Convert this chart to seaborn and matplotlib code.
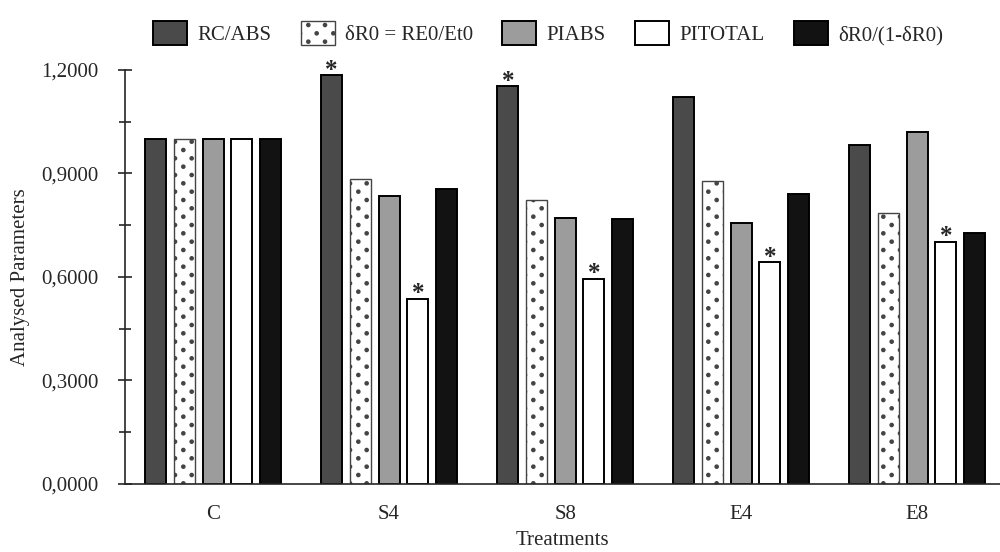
import numpy as np
import pandas as pd
import matplotlib
matplotlib.use("Agg")
import matplotlib.pyplot as plt
from matplotlib import hatch as mhatch
from matplotlib.path import Path
import seaborn as sns

treatments = ["C", "S4", "S8", "E4", "E8"]
params = ["RC/ABS", "δR0 = RE0/Et0", "PIABS", "PITOTAL", "δR0/(1-δR0)"]

rc_abs   = [1.000, 1.185, 1.153, 1.122, 0.984]
dr0      = [1.000, 0.885, 0.824, 0.878, 0.786]
piabs    = [1.000, 0.836, 0.771, 0.757, 1.020]
pitotal  = [1.000, 0.536, 0.594, 0.643, 0.702]
dr0_ratio = [1.000, 0.855, 0.767, 0.840, 0.727]

# significance marks (treatment, parameter)
significant = [("S4", "RC/ABS"), ("S4", "PITOTAL"),
               ("S8", "RC/ABS"), ("S8", "PITOTAL"),
               ("E4", "PITOTAL"), ("E8", "PITOTAL")]

yticks = [0.0, 0.3, 0.6, 0.9, 1.2]
ytick_labels = ["0,0000", "0,3000", "0,6000", "0,9000", "1,2000"]

colors = {"RC/ABS": "#4a4a4a", "δR0 = RE0/Et0": "#ffffff", "PIABS": "#9c9c9c",
          "PITOTAL": "#ffffff", "δR0/(1-δR0)": "#121212"}


# --- staggered dot hatch (replaces the default '.' hatch) ---
class StaggeredDots(mhatch.HatchPatternBase):
    def __init__(self, hatch, density):
        n = hatch.count('.')
        self.cols = 6 * n
        self.rows = 12 * n
        self.radius = 0.016
        circ = Path.unit_circle()
        self.shape_vertices = circ.vertices
        self.shape_codes = circ.codes
        if n:
            self.num_shapes = (self.rows // 2 + 1) * (self.cols + 1) + (self.rows // 2) * self.cols
        else:
            self.num_shapes = 0
        self.num_vertices = self.num_shapes * len(self.shape_vertices)

    def set_vertices_and_codes(self, vertices, codes):
        sv = self.shape_vertices * self.radius
        size = len(sv)
        cursor = 0
        for r in range(self.rows + 1):
            if r % 2 == 0:
                cols = np.linspace(0, 1, self.cols + 1)
            else:
                cols = np.linspace(0.5 / self.cols, 1 - 0.5 / self.cols, self.cols)
            y = r / self.rows
            for x in cols:
                vertices[cursor:cursor + size] = sv + (x, y)
                codes[cursor:cursor + size] = self.shape_codes
                cursor += size


mhatch._hatch_types = [StaggeredDots if t is mhatch.SmallFilledCircles else t
                       for t in mhatch._hatch_types]

series = [rc_abs, dr0, piabs, pitotal, dr0_ratio]
rows = []
for p, vals in zip(params, series):
    for t, v in zip(treatments, vals):
        rows.append({"Treatment": t, "Parameter": p, "Value": v})
df = pd.DataFrame(rows)

sns.set_style("ticks")
plt.rcParams["font.family"] = ["Liberation Serif", "DejaVu Serif"]
plt.rcParams["hatch.color"] = "black"
plt.rcParams["hatch.linewidth"] = 1.0

fig = plt.figure(figsize=(10, 5.52), dpi=100)
ax = fig.add_axes([0.125, 0.1232, 0.875, 0.7500])

sns.barplot(data=df, x="Treatment", y="Value", hue="Parameter",
            order=treatments, hue_order=params, palette=colors,
            saturation=1, width=0.815, gap=0.27, edgecolor="black",
            linewidth=1.4, legend=False, ax=ax, errorbar=None)

# dotted pattern for δR0 series
for patch in ax.containers[1]:
    patch.set_hatch(".")
    patch.set_edgecolor("#444444")
    patch.set_linewidth(1.0)

# asterisks
for t, p in significant:
    cont = ax.containers[params.index(p)]
    patch = cont[treatments.index(t)]
    cx = patch.get_x() + patch.get_width() / 2
    ax.annotate("*", (cx, patch.get_height()), xytext=(0, -1),
                textcoords="offset points", ha="center", va="baseline",
                fontsize=18, fontweight="bold")

ax.set_ylim(0, 1.2)
ax.set_xlim(-0.5, 4.47)
ax.set_yticks(yticks)
ax.set_yticklabels(ytick_labels)
ax.set_yticks(np.arange(0.15, 1.2, 0.3), minor=True)
ax.tick_params(axis="y", which="major", direction="inout", length=10, width=1.2,
               labelsize=15, pad=14)
ax.tick_params(axis="y", which="minor", direction="inout", length=8, width=1.2)
ax.tick_params(axis="x", length=0, labelsize=15, pad=15)
for s in ["top", "right"]:
    ax.spines[s].set_visible(False)
ax.spines["left"].set_linewidth(1.2)
ax.spines["bottom"].set_linewidth(1.2)

ax.set_xlabel("Treatments", fontsize=15, labelpad=5)
ax.set_ylabel("Analysed Parameters", fontsize=15, labelpad=8)

fig.legend(ax.containers, params, loc="center", bbox_to_anchor=(0.548, 0.94),
           ncol=5, frameon=False, fontsize=15, handlelength=1.63,
           handleheight=1.44, handletextpad=0.5, columnspacing=1.4)

fig.savefig("out.png", dpi=100)
